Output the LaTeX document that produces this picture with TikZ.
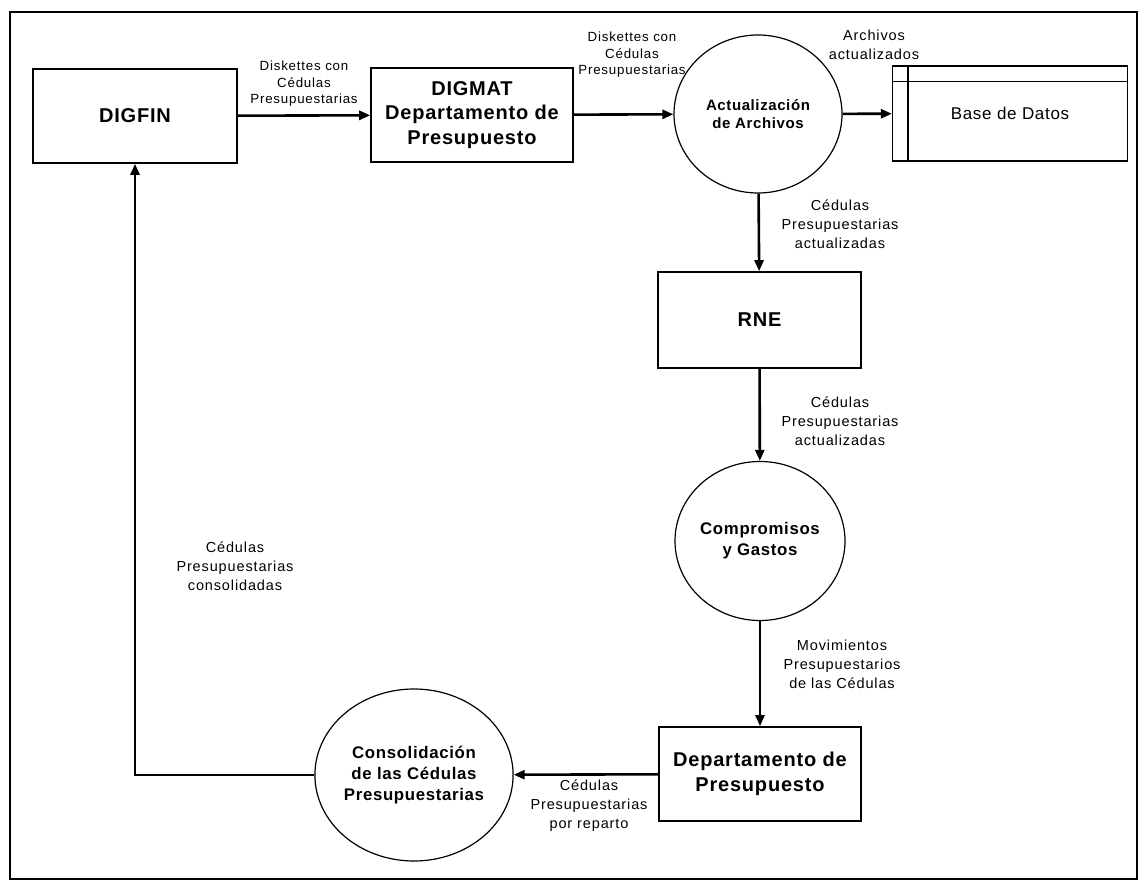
\documentclass[tikz,border=0pt]{standalone}
\usepackage{fontspec}
\setmainfont{Liberation Sans}
\newfontfamily\boxfont[LetterSpace=4]{Liberation Sans}
\newfontfamily\flowfont[LetterSpace=6]{Liberation Sans}
\usetikzlibrary{arrows.meta,shapes.geometric}

\begin{document}
\begin{tikzpicture}[x=1pt,y=1pt]
	\tikzstyle{every node}+=[inner sep=0pt, align=center]
	\tikzstyle{entity}=[draw, rectangle, line width=1.6pt, minimum width=202pt, minimum height=94pt, font=\boxfont\fontsize{20}{24.5}\selectfont\bfseries]
	\tikzstyle{proc}=[draw, ellipse, line width=1.2pt, font=\boxfont\fontsize{16.8}{21}\selectfont\bfseries]
	\tikzstyle{flow}=[line width=2.6pt, -{Triangle[length=11pt,width=9pt]}]
	\tikzstyle{lbl}=[font=\flowfont\fontsize{14.5}{19}\selectfont]
	\tikzstyle{lblsmall}=[font=\flowfont\fontsize{13.3}{16.5}\selectfont]
	\useasboundingbox (0,0) rectangle (1141,-882);
	\draw [line width=2.5pt] (10,-12) rectangle (1137,-879);
	% entities and processes
	\node [entity, minimum width=204pt] (digfin) at (135,-116) {DIGFIN};
	\node [entity] (digmat) at (472,-115) {DIGMAT\\Departamento de\\Presupuesto};
	\node [proc, minimum width=168pt, minimum height=158pt, font=\boxfont\fontsize{15}{18.5}\selectfont\bfseries] (actual) at (758,-114) {Actualizaci\'on\\de Archivos};
	\node [draw, rectangle, line width=1.2pt, minimum width=235pt, minimum height=95pt, font=\boxfont\fontsize{17}{20}\selectfont] (bdatos) at (1010,-113.5) {Base de Datos};
	\draw [line width=1.2pt] ([yshift=-16pt]bdatos.north west) -- ([yshift=-16pt]bdatos.north east);
	\draw [line width=1.2pt] ([xshift=16pt]bdatos.north west) -- ([xshift=16pt]bdatos.south west);
	\node [entity, minimum width=203pt, minimum height=96pt] (rne) at (759.5,-320) {RNE};
	\node [proc, minimum width=170pt, minimum height=159pt] (compro) at (760,-541) {Compromisos\\y Gastos};
	\node [entity] (deppre) at (760,-774) {Departamento de\\Presupuesto};
	\node [proc, minimum width=185pt, minimum height=172pt] (consol) at (414,-775) {Consolidaci\'on\\de las C\'edulas\\Presupuestarias};
	% flows
	\draw [flow] (digfin) -- (digmat);
	\draw [flow] (digmat) -- (actual);
	\draw [flow] (actual) -- (bdatos);
	\draw [flow] (actual) -- (rne);
	\draw [flow] (rne) -- (compro);
	\draw [flow] (compro) -- (deppre);
	\draw [flow] (deppre) -- (consol);
	\draw [flow] (consol.west) -| (digfin.south);
	% flow labels
	\node [lblsmall] (l_disk1) at (304,-84) {Diskettes con\\C\'edulas\\Presupuestarias};
	\node [lblsmall] (l_disk2) at (632,-55) {Diskettes con\\C\'edulas\\Presupuestarias};
	\node [lbl] (l_arch) at (874,-45) {Archivos\\actualizados};
	\node [lbl] (l_ced1) at (840,-224) {C\'edulas\\Presupuestarias\\actualizadas};
	\node [lbl] (l_ced2) at (840,-421) {C\'edulas\\Presupuestarias\\actualizadas};
	\node [lbl] (l_mov) at (842,-664) {Movimientos\\Presupuestarios\\de las C\'edulas};
	\node [lbl] (l_rep) at (589,-806) {C\'edulas\\Presupuestarias\\por reparto};
	\node [lbl] (l_cons) at (235,-566) {C\'edulas\\Presupuestarias\\consolidadas};
\end{tikzpicture}
\end{document}
